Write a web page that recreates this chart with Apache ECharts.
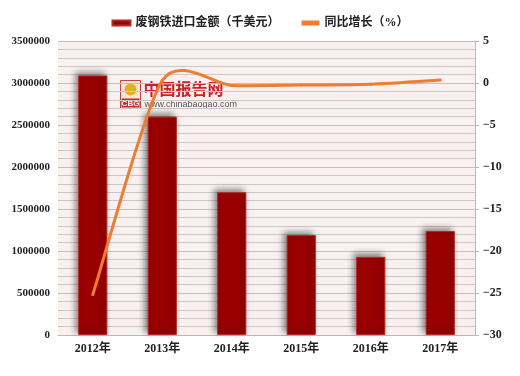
<!DOCTYPE html>
<html>
<head>
<meta charset="utf-8">
<script src="https://cdn.jsdelivr.net/npm/echarts@6/dist/echarts.min.js"></script>
<style>
	html, body { margin: 0; padding: 0; background: #fff; }
	#chart { width: 520px; height: 376px; }
</style>
</head>
<body>
<div id="chart"></div>
<script>
	/*年份*/
	var years = ['2012年', '2013年', '2014年', '2015年', '2016年', '2017年']
	/*废钢铁进口金额（千美元）*/
	var importValue = [3090000, 2600000, 1700000, 1190000, 930000, 1238000]
	/*同比增长（%）*/
	var growth = [-25.2, 0.3, -0.3, -0.25, -0.15, 0.35]

	var fontFamily = '"Liberation Serif", "Noto Sans CJK SC", serif'

	/*平滑折线：按相邻点求切线（类似Excel平滑线）*/
	function renderSmoothLine(params, api) {
		var i = params.dataIndex
		if (i >= growth.length - 1) {
			return null
		}
		var pts = growth.map(function (v, k) {
			return api.coord([k, v])
		})
		var p0 = pts[Math.max(i - 1, 0)]
		var p1 = pts[i]
		var p2 = pts[i + 1]
		var p3 = pts[Math.min(i + 2, pts.length - 1)]
		var k = 0.12
		return {
			type: 'bezierCurve',
			shape: {
				x1: p1[0], y1: p1[1],
				x2: p2[0], y2: p2[1],
				cpx1: p1[0] + (p2[0] - p0[0]) * k,
				cpy1: p1[1] + (p2[1] - p0[1]) * k,
				cpx2: p2[0] - (p3[0] - p1[0]) * k,
				cpy2: p2[1] - (p3[1] - p1[1]) * k
			},
			style: {
				fill: null,
				stroke: '#ed7d31',
				lineWidth: 3,
				lineCap: 'round'
			}
		}
	}

	var chart = echarts.init(document.getElementById('chart'))
	chart.setOption({
		animation: false,
		textStyle: { fontFamily: fontFamily },
		legend: {
			top: 12,
			left: 'center',
			itemGap: 22,
			itemWidth: 18,
			itemHeight: 5,
			textStyle: { fontSize: 12, fontWeight: 'bold', color: '#222', fontFamily: fontFamily },
			data: [
				{ name: '废钢铁进口金额（千美元）', icon: 'rect' },
				{ name: '同比增长（%）', icon: 'rect' }
			]
		},
		grid: {
			top: 41,
			bottom: 41,
			left: 58,
			right: 45,
			show: true,
			backgroundColor: '#f9f0f0',
			borderWidth: 0
		},
		xAxis: [{
			type: 'category',
			data: years,
			axisLine: { lineStyle: { color: '#b8b8b8', width: 1 } },
			axisTick: { show: false },
			axisLabel: { color: '#222', fontSize: 12, fontWeight: 'bold', margin: 8 }
		}],
		yAxis: [{
			type: 'value',
			min: 0,
			max: 3500000,
			interval: 500000,
			axisLine: { show: false },
			axisTick: { show: false },
			axisLabel: {
				color: '#222', fontSize: 11, fontWeight: 'bold', margin: 8,
				formatter: function (v) { return String(v) }
			},
			splitLine: { lineStyle: { color: '#c0c0c0', width: 1 } },
			minorTick: { show: false, splitNumber: 5 },
			minorSplitLine: { show: true, lineStyle: { color: '#c8c8c8', width: 1 } }
		}, {
			type: 'value',
			min: -30,
			max: 5,
			interval: 5,
			position: 'right',
			axisLine: { show: true, lineStyle: { color: '#b8b8b8' } },
			axisTick: { show: true, length: 4, lineStyle: { color: '#b8b8b8' } },
			axisLabel: {
				color: '#222', fontSize: 12, fontWeight: 'bold', margin: 8,
				formatter: function (v) { return v < 0 ? '\u2212' + Math.abs(v) : v }
			},
			splitLine: { show: false }
		}],
		series: [{
			name: '废钢铁进口金额（千美元）',
			type: 'bar',
			barWidth: '42%',
			data: importValue,
			itemStyle: {
				color: '#990000',
				borderColor: '#b02a2a',
				borderWidth: 1,
				shadowColor: 'rgba(0,0,0,0.45)',
				shadowBlur: 6,
				shadowOffsetX: -3,
				shadowOffsetY: -3
			}
		}, {
			name: '同比增长（%）',
			type: 'custom',
			yAxisIndex: 1,
			data: growth.map(function (v, k) { return [k, v] }),
			encode: { x: 0, y: 1 },
			renderItem: renderSmoothLine,
			itemStyle: { color: '#ed7d31' },
			z: 5
		}],
		graphic: [
			/*水印*/
			{
				type: 'group', left: 120, top: 80, z: 10,
				children: [
					{ type: 'rect', shape: { x: 0, y: 0, width: 20, height: 28 }, style: { fill: '#f6e6d6', stroke: '#c84040', lineWidth: 1 } },
					{ type: 'circle', shape: { cx: 10, cy: 9, r: 6 }, style: { fill: '#e8b020' } },
					{ type: 'rect', shape: { x: 1, y: 18, width: 18, height: 9 }, style: { fill: '#c82828' } },
					{ type: 'text', style: { x: 10, y: 27, text: 'CBG', fill: '#fff', font: 'bold 8px "Liberation Sans"', textAlign: 'center', textVerticalAlign: 'bottom' } },
					{ type: 'text', style: { x: 23, y: 0, text: '中国报告网', fill: '#cc2027', font: 'bold 16px "Noto Sans CJK SC"' } },
					{ type: 'text', style: { x: 24, y: 20, text: 'www.chinabaogao.com', fill: '#555', font: '9px "Liberation Sans"' } }
				]
			}
		]
	})
</script>
</body>
</html>
